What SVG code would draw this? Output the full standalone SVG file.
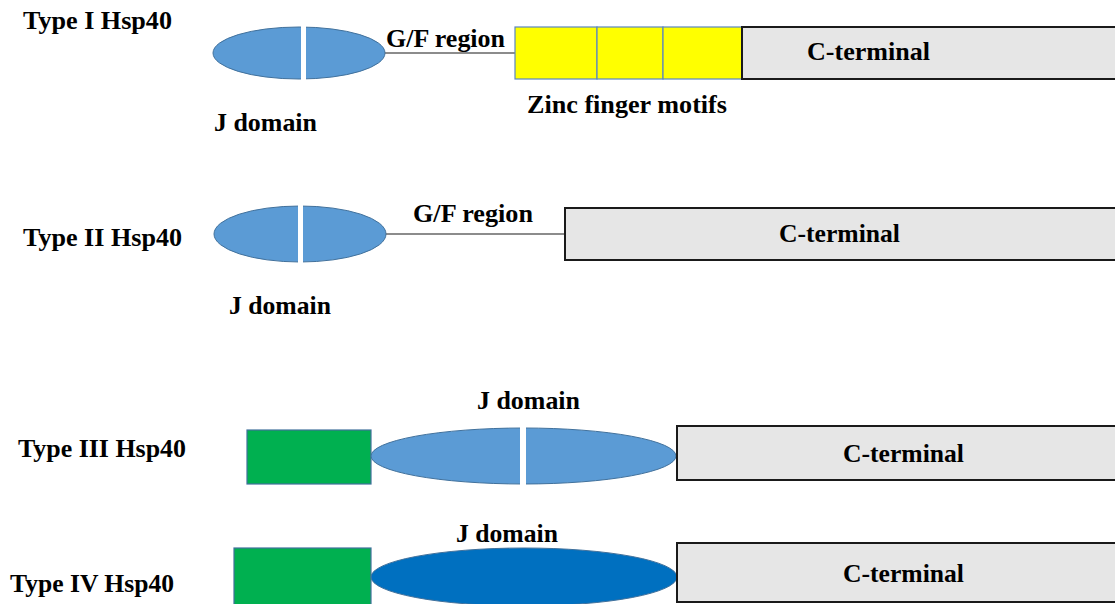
<svg xmlns="http://www.w3.org/2000/svg" width="1115" height="604" viewBox="0 0 1115 604">
<style>
.jd{fill:#5b9bd5;stroke:#41719c;stroke-width:1}
.jd4{fill:#0070c0;stroke:#41719c;stroke-width:1}
.div{fill:#ffffff}
.ct{fill:#e6e6e6;stroke:#1a1a1a;stroke-width:2}
.zf{fill:#ffff00;stroke:#5b86c0;stroke-width:1.2}
.gr{fill:#00b050;stroke:#41719c;stroke-width:1.2}
.ln{stroke:#666;stroke-width:1.5;fill:none}
</style>
<rect width="1115" height="604" fill="#ffffff"/>
<g font-family="Liberation Serif" font-weight="bold" font-size="25" fill="#000">
<g id="labels">
<text x="23" y="29" textLength="149" lengthAdjust="spacingAndGlyphs">Type I Hsp40</text>
<text x="23" y="246" textLength="159" lengthAdjust="spacingAndGlyphs">Type II Hsp40</text>
<text x="18" y="457" textLength="168" lengthAdjust="spacingAndGlyphs">Type III Hsp40</text>
<text x="10" y="592" textLength="164" lengthAdjust="spacingAndGlyphs">Type IV Hsp40</text>
</g>
<g id="connectors">
<line class="ln" x1="385" y1="53" x2="515" y2="53"/>
<line class="ln" x1="386" y1="234" x2="565" y2="234"/>
</g>
<g id="type1">
<g id="t1-jdomain">
<ellipse class="jd" cx="299" cy="53" rx="86" ry="26"/>
<rect class="div" x="301" y="26" width="5" height="54"/>
<text x="214" y="131" textLength="103" lengthAdjust="spacingAndGlyphs">J domain</text>
</g>
<text x="386" y="47" textLength="119" lengthAdjust="spacingAndGlyphs">G/F region</text>
<g id="t1-zinc">
<rect class="zf" x="515" y="27" width="82" height="52"/>
<rect class="zf" x="597" y="27" width="66" height="52"/>
<rect class="zf" x="663" y="27" width="79" height="52"/>
<text x="527" y="113" textLength="200" lengthAdjust="spacingAndGlyphs">Zinc finger motifs</text>
</g>
<g id="t1-cterm">
<rect class="ct" x="742" y="27" width="380" height="52"/>
<text x="807" y="60" textLength="123" lengthAdjust="spacingAndGlyphs">C-terminal</text>
</g>
</g>
<g id="type2">
<g id="t2-jdomain">
<ellipse class="jd" cx="300" cy="234" rx="86" ry="28"/>
<rect class="div" x="298" y="205" width="5" height="58"/>
<text x="229" y="314" textLength="102" lengthAdjust="spacingAndGlyphs">J domain</text>
</g>
<text x="413" y="222" textLength="120" lengthAdjust="spacingAndGlyphs">G/F region</text>
<g id="t2-cterm">
<rect class="ct" x="565" y="208" width="557" height="52"/>
<text x="779" y="242" textLength="121" lengthAdjust="spacingAndGlyphs">C-terminal</text>
</g>
</g>
<g id="type3">
<rect id="t3-box" class="gr" x="247" y="430" width="124" height="54"/>
<g id="t3-jdomain">
<ellipse class="jd" cx="523.5" cy="456" rx="152.5" ry="28"/>
<rect class="div" x="520" y="427" width="6" height="58"/>
<text x="477" y="409" textLength="103" lengthAdjust="spacingAndGlyphs">J domain</text>
</g>
<g id="t3-cterm">
<rect class="ct" x="677" y="426" width="445" height="54"/>
<text x="843" y="462" textLength="121" lengthAdjust="spacingAndGlyphs">C-terminal</text>
</g>
</g>
<g id="type4">
<rect id="t4-box" class="gr" x="234" y="548" width="137" height="60"/>
<g id="t4-jdomain">
<ellipse class="jd4" cx="524" cy="577" rx="153" ry="29"/>
<text x="456" y="542" textLength="102" lengthAdjust="spacingAndGlyphs">J domain</text>
</g>
<g id="t4-cterm">
<rect class="ct" x="677" y="543" width="445" height="59"/>
<text x="843" y="582" textLength="121" lengthAdjust="spacingAndGlyphs">C-terminal</text>
</g>
</g>
</g>
</svg>
